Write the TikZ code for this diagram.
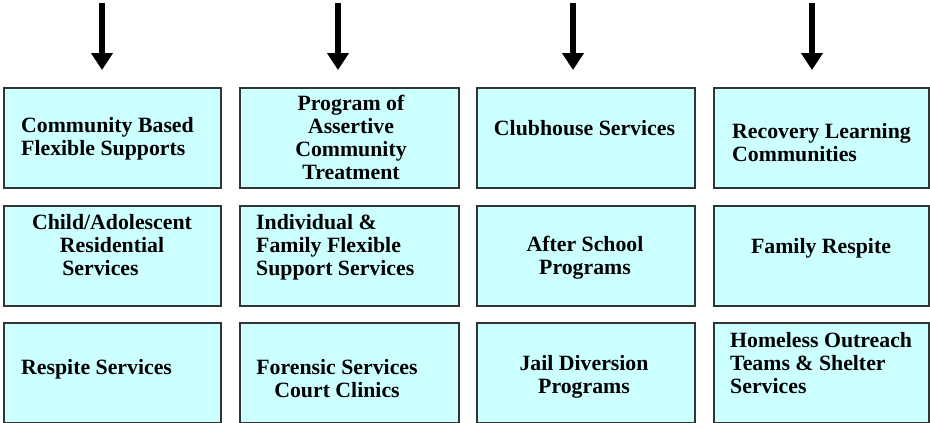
\documentclass[tikz,border=0pt]{standalone}
\usepackage{fontspec}
\setmainfont{Liberation Serif}
\usetikzlibrary{arrows.meta}
\definecolor{boxfill}{HTML}{CCFFFF}
\definecolor{boxline}{HTML}{303636}
\begin{document}
\begin{tikzpicture}[x=1pt,y=-1pt,
  svcbox/.style={draw=boxline, fill=boxfill, line width=1.5pt, rectangle, anchor=north west, inner sep=0pt, minimum height=100pt},
  lbl/.style={font=\fontsize{21.8}{23}\selectfont\bfseries, inner sep=0pt, text=black},
  lblL/.style={lbl, anchor=west, align=left},
  lblC/.style={lbl, anchor=center, align=center},
  downarrow/.style={line width=6pt, -{Triangle[width=21pt,length=17pt]}}]
\useasboundingbox (0,0) rectangle (930,423);

% arrows
\coordinate (a1s) at (102,3);  \coordinate (a1e) at (102,70);
\coordinate (a2s) at (338,3);  \coordinate (a2e) at (338,70);
\coordinate (a3s) at (573,3);  \coordinate (a3e) at (573,70);
\coordinate (a4s) at (812,3);  \coordinate (a4e) at (812,70);
\draw[downarrow] (a1s) -- (a1e);
\draw[downarrow] (a2s) -- (a2e);
\draw[downarrow] (a3s) -- (a3e);
\draw[downarrow] (a4s) -- (a4e);

% row 1
\node[svcbox, minimum width=217pt] (b11) at (3,87) {};
\node[svcbox, minimum width=219pt] (b12) at (239,87) {};
\node[svcbox, minimum width=218pt] (b13) at (476,87) {};
\node[svcbox, minimum width=215pt] (b14) at (713,87) {};
% row 2
\node[svcbox, minimum width=217pt] (b21) at (3,205) {};
\node[svcbox, minimum width=219pt] (b22) at (239,205) {};
\node[svcbox, minimum width=218pt] (b23) at (476,205) {};
\node[svcbox, minimum width=215pt] (b24) at (713,205) {};
% row 3
\node[svcbox, minimum width=217pt] (b31) at (3,322) {};
\node[svcbox, minimum width=219pt] (b32) at (239,322) {};
\node[svcbox, minimum width=218pt] (b33) at (476,322) {};
\node[svcbox, minimum width=215pt] (b34) at (713,322) {};

% labels row 1
\node[lblL] (t11) at (21,139) {Community Based\\Flexible Supports};
\node[lblC] (t12) at (351,137) {Program of\\Assertive\\Community\\Treatment};
\node[lblC] (t13) at (584.5,128) {Clubhouse Services};
\node[lblL] (t14) at (732,143) {Recovery Learning\\Communities};
% labels row 2
\node[lblC] (t21) at (112,245) {Child/Adolescent\\Residential\hspace*{19pt}\\Services\hspace*{23pt}};
\node[lblL] (t22) at (256,247) {Individual \&\\Family Flexible\\Support Services};
\node[lblC] (t23) at (585,258) {After School\\Programs};
\node[lblC] (t24) at (821,248.5) {Family Respite};
% labels row 3
\node[lblL] (t31) at (21,369.5) {Respite Services};
\node[lblC] (t32) at (337,379) {Forensic Services\\Court Clinics};
\node[lblC] (t33) at (584,377) {Jail Diversion\\Programs};
\node[lblL] (t34) at (730,363) {Homeless Outreach\\Teams \& Shelter\\Services};
\end{tikzpicture}
\end{document}
